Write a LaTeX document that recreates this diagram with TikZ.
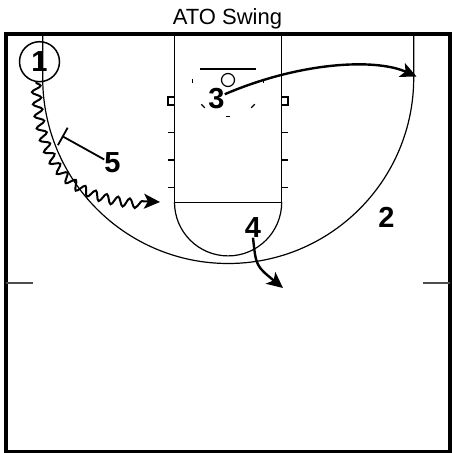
\documentclass[tikz,border=0pt]{standalone}
\usepackage{fontspec}
\setmainfont{Liberation Sans}
\usetikzlibrary{arrows.meta,decorations.pathmorphing}
\definecolor{courtInk}{HTML}{000000}
\definecolor{courtGray}{HTML}{4D4D4D}
\tikzset{
  court/.style={line width=1.2pt, courtInk},
  border/.style={line width=4pt, courtInk},
  midtick/.style={line width=2pt, courtGray},
  cut/.style={-{Stealth[length=16pt, width=15pt, inset=4pt]}, line width=2.4pt},
  dribble/.style={-{Stealth[length=16pt, width=15pt, inset=4pt]}, line width=2pt,
    decorate, decoration={snake, amplitude=4.5pt, segment length=12pt, post length=17pt}},
  screen/.style={-{Bar[width=20pt]}, line width=1.8pt},
  plr/.style={font=\fontsize{29}{30}\selectfont\bfseries, inner sep=0pt},
  ttl/.style={font=\fontsize{22}{24}\selectfont},
}

\begin{document}
\begin{tikzpicture}[x=1pt, y=1pt, yscale=-1]
  \useasboundingbox (0,0) rectangle (451,453);
  \node[ttl, anchor=base] (title) at (227.5,24) {ATO Swing};
  \draw[border] (5.5,33.5) rectangle (449.5,451.5);
  \draw[midtick] (5.5,282.7) -- (32.7,282.7);
  \draw[midtick] (423,282.7) -- (449.5,282.7);
  \draw[court] (42.7,33.5) -- (42.7,78) arc[start angle=180, end angle=0, radius=185.5]
    -- (413.7,33.5);
  \draw[court] (174.5,33.5) -- (174.5,202.3) -- (281.7,202.3) -- (281.7,33.5);
  \draw[court] (174.5,202.3) arc[start angle=180, end angle=0, radius=53.6];
  \draw[court] (168,97) rectangle (174.5,105);
  \draw[court] (281.7,97) rectangle (288,105);
  \foreach \y in {132.7,160,187.7} {
    \draw[court] (168,\y) -- (174.5,\y);
    \draw[court] (281.7,\y) -- (288,\y);
  }
  \draw[court] (200,69) -- (256,69);
  \draw[court] (228,80) circle (6.5);
  \foreach \a in {0,45,...,180}
    \draw[court] (228,81) ++({\a-4}:35.5) arc[start angle=\a-4, end angle=\a+4, radius=35.5];

  \node[plr, circle, draw, line width=1.5pt, minimum size=40pt] (p1) at (39.5,61.7) {1};
  \node[plr] (p2) at (386.5,217) {2};
  \node[plr] (p3) at (216.5,99) {3};
  \node[plr] (p4) at (253,227.5) {4};
  \node[plr] (p5) at (112.5,162.5) {5};

  \coordinate (d1) at (160,202);
  \coordinate (c3) at (416.5,76.5);
  \coordinate (c4) at (283,288);
  \coordinate (s5) at (62,136);
  \draw[dribble] (p1.-100) .. controls (40,170) and (70,200) .. (d1);
  \draw[cut] (p3.30) .. controls (300,62) and (375,58) .. (c3);
  \draw[cut] (p4.south) .. controls (256,266) .. (c4);
  \draw[screen] (p5.160) -- (s5);
\end{tikzpicture}
\end{document}
